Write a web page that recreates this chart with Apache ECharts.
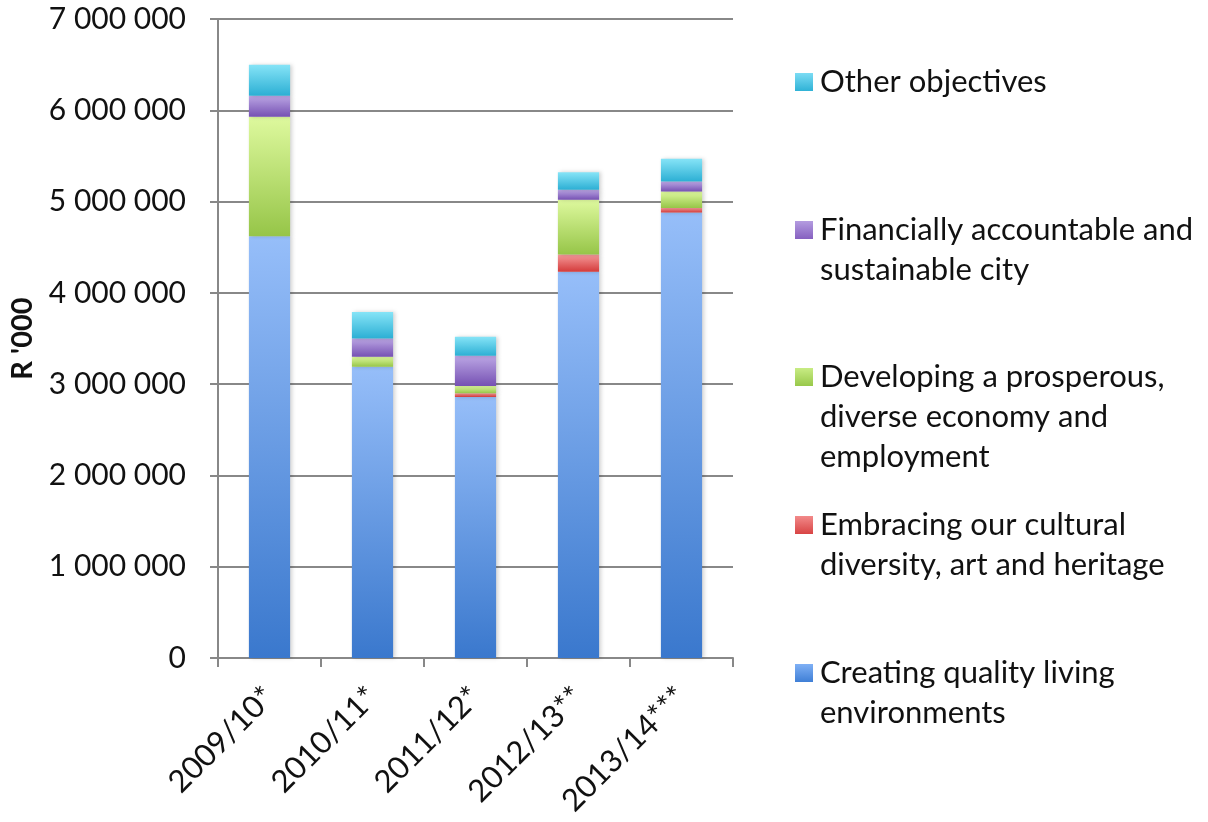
<!DOCTYPE html>
<html>
<head>
<meta charset="utf-8">
<script src="https://cdn.jsdelivr.net/npm/echarts@6/dist/echarts.min.js"></script>
<style>
  html, body { margin: 0; padding: 0; background: #fff; }
  #chart { width: 1208px; height: 822px; }
</style>
</head>
<body>
<div id="chart"></div>
<script>
// Financial years on the category axis
const years = ['2009/10*', '2010/11*', '2011/12*', '2012/13**', '2013/14***'];

// Spending per strategic objective, R '000
const qualityLiving = [4620000, 3190000, 2860000, 4230000, 4880000];
const culturalDiversity = [0, 0, 40000, 190000, 50000];
const prosperousEconomy = [1310000, 110000, 80000, 600000, 180000];
const financiallyAccountable = [230000, 200000, 330000, 110000, 110000];
const otherObjectives = [340000, 290000, 210000, 190000, 250000];

// Y-axis ticks
const yMin = 0, yMax = 7000000, yStep = 1000000;

const FONT = 'Lato';
const LEGEND_FONT = 31;
const LINE_H = 40;

function grad(top, bottom) {
  return new echarts.graphic.LinearGradient(0, 0, 0, 1, [
    { offset: 0, color: top },
    { offset: 1, color: bottom }
  ]);
}

const seriesDefs = [
  { name: 'Creating quality living environments', lines: ['Creating quality living', 'environments'], data: qualityLiving, top: '#96bef9', bottom: '#3a78cd', swatch: ['#7fb0f5', '#3f7fd6'], legendTop: 653 },
  { name: 'Embracing our cultural diversity, art and heritage', lines: ['Embracing our cultural', 'diversity, art and heritage'], data: culturalDiversity, top: '#f59a9a', bottom: '#d43a3a', swatch: ['#f28a8a', '#d84444'], legendTop: 505 },
  { name: 'Developing a prosperous, diverse economy and employment', lines: ['Developing a prosperous,', 'diverse economy and', 'employment'], data: prosperousEconomy, top: '#def99e', bottom: '#96c548', swatch: ['#c8ec84', '#98c84a'], legendTop: 357 },
  { name: 'Financially accountable and sustainable city', lines: ['Financially accountable and', 'sustainable city'], data: financiallyAccountable, top: '#bba6e4', bottom: '#7651b3', swatch: ['#b49ce0', '#8660c0'], legendTop: 210 },
  { name: 'Other objectives', lines: ['Other objectives'], data: otherObjectives, top: '#86e4f7', bottom: '#2cafd4', swatch: ['#7cdcf4', '#2fb2d6'], legendTop: 62 }
];

const series = seriesDefs.map(d => ({
  name: d.name,
  type: 'bar',
  stack: 'total',
  barCategoryGap: '60%',
  data: d.data,
  itemStyle: {
    color: grad(d.top, d.bottom),
    shadowColor: 'rgba(0,0,0,0.18)',
    shadowBlur: 4,
    shadowOffsetX: 2
  },
  emphasis: { disabled: true }
}));

// One legend block per objective; the swatch sits on the first text line
const legends = seriesDefs.map(d => ({
  data: [d.name],
  left: 790,
  top: d.legendTop,
  padding: 0,
  icon: 'none',
  itemWidth: 0,
  itemHeight: 18,
  selectedMode: false,
  formatter: () => d.lines.map((t, i) => (i === 0 ? '{sq|}{gap|}' : '{ind|}') + '{txt|' + t + '}').join('\n'),
  textStyle: {
    fontFamily: FONT,
    fontSize: LEGEND_FONT,
    color: '#111',
    lineHeight: LINE_H,
    rich: {
      sq: { width: 18, height: 18, backgroundColor: grad(d.swatch[0], d.swatch[1]) },
      gap: { width: 7 },
      ind: { width: 25 },
      txt: { fontFamily: FONT, fontSize: LEGEND_FONT, color: '#111', lineHeight: LINE_H }
    }
  }
}));

function spaced(v) {
  return String(v).replace(/\B(?=(\d{3})+(?!\d))/g, ' ');
}

const chart = echarts.init(document.getElementById('chart'), null, { renderer: 'canvas' });
chart.setOption({
  animation: false,
  backgroundColor: '#ffffff',
  legend: legends,
  grid: { left: 218, right: 475, top: 19, bottom: 164, containLabel: false },
  xAxis: {
    type: 'category',
    data: years,
    axisLine: { lineStyle: { color: '#888', width: 2 } },
    axisTick: { show: true, length: 9, lineStyle: { color: '#888', width: 2 } },
    axisLabel: {
      rotate: 45,
      margin: 34,
      fontFamily: FONT,
      fontSize: 31,
      color: '#111'
    }
  },
  yAxis: {
    type: 'value',
    min: yMin,
    max: yMax,
    interval: yStep,
    name: "R '000",
    nameLocation: 'middle',
    nameRotate: 90,
    nameGap: 181,
    nameTextStyle: { fontFamily: FONT, fontSize: 29, fontWeight: 'bold', color: '#111' },
    axisLine: { show: true, lineStyle: { color: '#888', width: 2 } },
    axisTick: { show: true, length: 8, lineStyle: { color: '#888', width: 2 } },
    splitLine: { lineStyle: { color: '#888', width: 2 } },
    axisLabel: {
      margin: 32,
      fontFamily: FONT,
      fontSize: 30,
      color: '#111',
      formatter: spaced
    }
  },
  series: series
});
</script>
</body>
</html>
